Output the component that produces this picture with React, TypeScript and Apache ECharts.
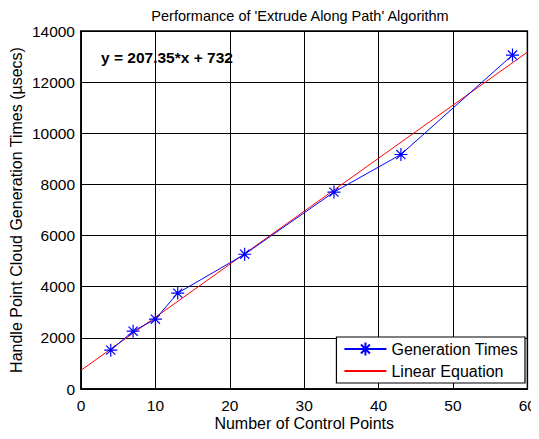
import React, { useEffect, useRef } from "react";
import * as echarts from "echarts";

const controlPoints = [4, 7, 10, 13, 22, 34, 43, 58];
const generationTimes = [1520, 2260, 2730, 3750, 5270, 7700, 9170, 13060];
const fitX = [0, 60];
const fitY = [732, 13173];
const equationText = "y = 207.35*x + 732";
const titleText = "Performance of 'Extrude Along Path' Algorithm";
const xName = "Number of Control Points";
const yName = "Handle Point Cloud Generation Times (\u00b5secs)";

const FONT = "Liberation Sans, Arial, sans-serif";
const STAR = "path://M0,-10L0,10M-10,0L10,0M-7,-7L7,7M-7,7L7,-7";

export default function App() {
  const ref = useRef<HTMLDivElement>(null);
  useEffect(() => {
    if (!ref.current) return;
    const chart = echarts.init(ref.current, undefined, { renderer: "svg" });
    chart.setOption({
      animation: false,
      backgroundColor: "#fff",
      textStyle: { fontFamily: FONT },
      title: {
        text: titleText,
        left: 295,
        top: 3,
        textAlign: "center",
        textStyle: { fontFamily: FONT, fontSize: 14.5, fontWeight: "normal", color: "#000" },
      },
      grid: {
        left: 80,
        right: 10,
        top: 31,
        bottom: 50,
        show: true,
        borderColor: "#000",
        borderWidth: 1.5,
        backgroundColor: "#fff",
      },
      xAxis: {
        type: "value",
        min: 0,
        max: 60,
        interval: 10,
        name: xName,
        nameLocation: "middle",
        nameGap: 26,
        nameMoveOverlap: false,
        nameTextStyle: { fontFamily: FONT, fontSize: 16, color: "#000" },
        axisLine: { show: true, lineStyle: { color: "#000", width: 1.5 } },
        axisTick: { show: false },
        axisLabel: {
          color: "#000",
          fontSize: 15.5,
          fontFamily: FONT,
          margin: 8,
          hideOverlap: false,
          showMaxLabel: true,
          showMinLabel: true,
        },
        splitLine: { show: true, lineStyle: { color: "#000", width: 1 } },
      },
      yAxis: {
        type: "value",
        min: 0,
        max: 14000,
        interval: 2000,
        name: yName,
        nameLocation: "middle",
        nameGap: 57,
        nameMoveOverlap: false,
        nameTextStyle: { fontFamily: FONT, fontSize: 16, color: "#000" },
        axisLine: { show: true, lineStyle: { color: "#000", width: 1.5 } },
        axisTick: { show: false },
        axisLabel: {
          color: "#000",
          fontSize: 15.5,
          fontFamily: FONT,
          margin: 6,
          showMaxLabel: true,
          showMinLabel: true,
          formatter: (v: number) => String(v),
        },
        splitLine: { show: true, lineStyle: { color: "#000", width: 1 } },
      },
      legend: {
        right: 14,
        bottom: 56,
        orient: "vertical",
        backgroundColor: "#fff",
        borderColor: "#000",
        borderWidth: 1.2,
        borderRadius: 0,
        padding: [4, 7, 4, 7],
        itemWidth: 42,
        itemHeight: 16,
        itemGap: 6,
        textStyle: { fontFamily: FONT, fontSize: 16, color: "#000" },
        data: [
          { name: "Generation Times" },
          { name: "Linear Equation", itemStyle: { opacity: 0 } },
        ],
      },
      graphic: [
        {
          type: "text",
          left: 101,
          top: 49,
          style: {
            text: equationText,
            font: "bold 15.5px " + FONT,
            fill: "#000",
          },
        },
      ],
      series: [
        {
          name: "Linear Equation",
          type: "line",
          data: fitX.map((x, i) => [x, fitY[i]]),
          showSymbol: false,
          symbol: "none",
          lineStyle: { color: "#ff0000", width: 1 },
          itemStyle: { color: "#ff0000" },
          z: 3,
        },
        {
          name: "Generation Times",
          type: "line",
          data: controlPoints.map((x, i) => [x, generationTimes[i]]),
          symbol: STAR,
          symbolSize: 13,
          showAllSymbol: true,
          lineStyle: { color: "#0000ff", width: 1 },
          itemStyle: { color: "#0000ff", borderColor: "#0000ff", borderWidth: 1.2 },
          z: 4,
        },
      ],
    });
    return () => chart.dispose();
  }, []);
  return <div ref={ref} style={{ width: 539, height: 439, margin: -8 }} />;
}
